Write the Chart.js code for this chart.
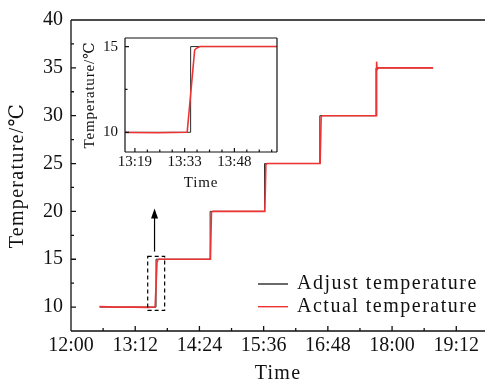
<!DOCTYPE html>
<html>
<head>
<meta charset="utf-8">
<script src="https://cdn.jsdelivr.net/npm/chart.js@4.4.1/dist/chart.umd.min.js"></script>
<style>
  html, body { margin: 0; padding: 0; background: #fff; }
  #wrap { position: relative; width: 485px; height: 385px; overflow: hidden; }
  #main { position: absolute; left: 0; top: 0; }
  #inset { position: absolute; left: 78px; top: 22px; }
</style>
</head>
<body>
<div id="wrap">
  <canvas id="main" width="485" height="385"></canvas>
  <canvas id="inset" width="207" height="173"></canvas>
</div>
<script>
/* ===== DATA ===== */
const seriesNames = ["Adjust temperature", "Actual temperature"];

// set point (step profile)
const adjustTime = ["12:32:00", "13:35:20", "13:35:20", "14:36:00", "14:36:00", "15:37:00", "15:37:00",
                    "16:39:00", "16:39:00", "17:42:00", "17:42:00", "18:46:00"];
const adjustTemp = [10, 10, 15, 15, 20, 20, 25, 25, 30, 30, 35, 35];

// measured
const actualTime = ["12:32:00", "12:50:00", "13:10:00", "13:26:00", "13:34:20", "13:36:30", "13:37:00", "13:38:00",
                    "14:00:00", "14:36:20", "14:37:30", "14:39:00", "15:37:20", "15:38:30", "15:40:00",
                    "16:39:20", "16:40:30", "16:42:00", "17:42:00", "17:42:40", "17:43:10", "17:44:30", "18:46:00"];
const actualTemp = [10.05, 10, 10, 9.97, 10, 14.8, 14.9, 15,
                    15, 15, 19.9, 20, 20, 24.9, 25,
                    25, 29.9, 30, 30, 35.65, 34.8, 35, 35];

// main axes
const xTickLabels = ["12:00", "13:12", "14:24", "15:36", "16:48", "18:00", "19:12"];
const yTicks = [10, 15, 20, 25, 30, 35, 40];
const xRange = ["12:00", "19:44:12"];
const yRange = [7.5, 40];

// inset axes
const insetXTicks = ["13:19:12", "13:33:36", "13:48:00"];
const insetYTicks = [10, 15];
const insetXRange = ["13:16:20", "14:00:20"];
const insetYRange = [8.85, 15.5];

// zoom box + arrow on the main chart
const boxTime = ["13:26:00", "13:45:00"];
const boxTemp = [9.65, 15.3];
const arrowTime = "13:33:40";
const arrowTemp = [15.8, 20.3];

/* ===== HELPERS ===== */
const FONT = "'Liberation Serif', 'DejaVu Serif', serif";
Chart.defaults.font.family = FONT;
Chart.defaults.color = "#111";

const toMin = s => { const p = s.split(":").map(Number); return p[0] * 60 + p[1] + (p[2] || 0) / 60; };
const fmt = v => {
  const h = Math.floor(v / 60 + 1e-9);
  const m = Math.floor(v - h * 60 + 1e-6);
  return h + ":" + String(m).padStart(2, "0");
};
const pts = (ts, vs) => ts.map((t, i) => ({ x: toMin(t), y: vs[i] }));

function minors(major, n, lo, hi) {
  const step = (major[1] - major[0]) / n, out = [];
  let v = major[0] - Math.floor((major[0] - lo) / step) * step;
  for (; v < hi - 1e-6; v += step) {
    if (v > lo + 1e-6 && !major.some(m => Math.abs(m - v) < 1e-6)) out.push(v);
  }
  return out;
}

function makeDatasets() {
  return [
    { label: seriesNames[0], data: pts(adjustTime, adjustTemp), borderColor: "#2a2a2a", borderWidth: 1, order: 1 },
    { label: seriesNames[1], data: pts(actualTime, actualTemp), borderColor: "#ee3333", borderWidth: 1.6, order: 0 }
  ].map(d => Object.assign(d, { pointRadius: 0, tension: 0, fill: false }));
}

// frame + inward tick marks, letter spacing for axis titles
function framePlugin(cfg) {
  return {
    id: "frame",
    beforeDraw(chart) { chart.ctx.letterSpacing = cfg.titleSpacing; },
    beforeDatasetsDraw(chart) { chart.ctx.letterSpacing = "0px"; },
    afterDraw(chart) {
      const { ctx, chartArea: a, scales: { x, y } } = chart;
      ctx.save();
      ctx.strokeStyle = "#111";
      ctx.lineWidth = cfg.lw;
      ctx.beginPath();
      ctx.moveTo(a.left, a.top); ctx.lineTo(a.left, a.bottom);
      ctx.moveTo(a.left, a.bottom); ctx.lineTo(a.right, a.bottom);
      ctx.moveTo(a.left, a.top); ctx.lineTo(a.right, a.top);
      if (cfg.right) { ctx.moveTo(a.right, a.top); ctx.lineTo(a.right, a.bottom); }
      const mark = (scale, vals, len) => vals.forEach(v => {
        const p = scale.getPixelForValue(v);
        if (scale.isHorizontal()) { ctx.moveTo(p, a.bottom); ctx.lineTo(p, a.bottom - len); }
        else { ctx.moveTo(a.left, p); ctx.lineTo(a.left + len, p); }
      });
      mark(x, cfg.xMajor, cfg.major);
      mark(x, minors(cfg.xMajor, cfg.xSub, x.min, x.max), cfg.minor);
      mark(y, cfg.yMajor, cfg.major);
      mark(y, minors(cfg.yMajor, cfg.ySub, y.min, y.max), cfg.minor);
      ctx.stroke();
      ctx.restore();
    }
  };
}

/* ===== MAIN CHART ===== */
const xMajor = xTickLabels.map(toMin);

const annotate = {
  id: "annotate",
  afterDraw(chart) {
    const { ctx, scales: { x, y } } = chart;
    ctx.save();
    // dashed zoom box
    ctx.strokeStyle = "#000";
    ctx.lineWidth = 1.2;
    ctx.setLineDash([4, 3]);
    const bx0 = x.getPixelForValue(toMin(boxTime[0])), bx1 = x.getPixelForValue(toMin(boxTime[1]));
    const by0 = y.getPixelForValue(boxTemp[1]), by1 = y.getPixelForValue(boxTemp[0]);
    ctx.strokeRect(bx0, by0, bx1 - bx0, by1 - by0);
    ctx.setLineDash([]);
    // arrow
    const ax = x.getPixelForValue(toMin(arrowTime));
    const ay0 = y.getPixelForValue(arrowTemp[0]), ay1 = y.getPixelForValue(arrowTemp[1]);
    ctx.beginPath();
    ctx.moveTo(ax, ay0); ctx.lineTo(ax, ay1 + 8);
    ctx.stroke();
    ctx.fillStyle = "#000";
    ctx.beginPath();
    ctx.moveTo(ax, ay1); ctx.lineTo(ax - 3.5, ay1 + 10); ctx.lineTo(ax + 3.5, ay1 + 10);
    ctx.closePath();
    ctx.fill();

    // legend
    ctx.font = "20px " + FONT;
    ctx.letterSpacing = "1.5px";
    ctx.textBaseline = "middle";
    ctx.fillStyle = "#111";
    seriesNames.forEach((name, i) => {
      const ds = chart.data.datasets.find(d => d.label === name);
      const ly = 284 + i * 22.7;
      ctx.strokeStyle = ds.borderColor;
      ctx.lineWidth = 1.4;
      ctx.beginPath();
      ctx.moveTo(258, ly); ctx.lineTo(288, ly);
      ctx.stroke();
      ctx.fillText(name, 297, ly);
    });
    ctx.restore();
  }
};

new Chart(document.getElementById("main"), {
  type: "line",
  data: { datasets: makeDatasets() },
  options: {
    responsive: false,
    animation: false,
    devicePixelRatio: 1,
    layout: { padding: { top: 14, right: 0, left: 0, bottom: 0 } },
    plugins: { legend: { display: false }, tooltip: { enabled: false } },
    scales: {
      x: {
        type: "linear",
        min: toMin(xRange[0]),
        max: toMin(xRange[1]),
        afterBuildTicks: s => { s.ticks = xMajor.map(v => ({ value: v })); },
        afterFit: s => { s.height = 54; },
        grid: { display: false, drawTicks: false },
        border: { display: false },
        ticks: { z: 1, padding: 3, maxRotation: 0, autoSkip: false, font: { size: 20 }, callback: v => fmt(v) },
        title: { display: true, text: "Time", font: { size: 20, lineHeight: 1.08 }, padding: { top: 0, bottom: 0 } }
      },
      y: {
        min: yRange[0],
        max: yRange[1],
        afterBuildTicks: s => { s.ticks = yTicks.map(v => ({ value: v })); },
        afterFit: s => { s.width = 71; },
        grid: { display: false, drawTicks: false },
        border: { display: false },
        ticks: { z: 1, padding: 8, font: { size: 20 } },
        title: { display: true, text: "Temperature/℃", font: { size: 20 }, padding: { top: 6, bottom: 0 } }
      }
    }
  },
  plugins: [
    framePlugin({ titleSpacing: "1.3px", lw: 1.3, major: 5, minor: 3, xMajor: xMajor, xSub: 2, yMajor: yTicks, ySub: 2, right: false }),
    annotate
  ]
});

/* ===== INSET ===== */
const insetXMajor = insetXTicks.map(toMin);

new Chart(document.getElementById("inset"), {
  type: "line",
  data: { datasets: makeDatasets() },
  options: {
    responsive: false,
    animation: false,
    devicePixelRatio: 1,
    layout: { padding: { top: 9, right: 8, left: 0, bottom: 0 } },
    plugins: { legend: { display: false }, tooltip: { enabled: false } },
    scales: {
      x: {
        type: "linear",
        min: toMin(insetXRange[0]),
        max: toMin(insetXRange[1]),
        afterBuildTicks: s => { s.ticks = insetXMajor.map(v => ({ value: v })); },
        afterFit: s => { s.height = 43; },
        grid: { display: false, drawTicks: false },
        border: { display: false },
        ticks: { z: 1, padding: 1, maxRotation: 0, autoSkip: false, font: { size: 15 }, callback: v => fmt(v) },
        title: { display: true, text: "Time", font: { size: 15 }, padding: { top: 0, bottom: 3 } }
      },
      y: {
        min: insetYRange[0],
        max: insetYRange[1],
        afterBuildTicks: s => { s.ticks = insetYTicks.map(v => ({ value: v })); },
        afterFit: s => { s.width = 47; },
        grid: { display: false, drawTicks: false },
        border: { display: false },
        ticks: { z: 1, padding: 7, font: { size: 15 } },
        title: { display: true, text: "Temperature/℃", font: { size: 15 }, padding: { top: 3, bottom: 0 } }
      }
    }
  },
  plugins: [
    framePlugin({ titleSpacing: "0.8px", lw: 1.2, major: 4, minor: 2.5, xMajor: insetXMajor, xSub: 4, yMajor: insetYTicks, ySub: 2, right: true })
  ]
});
</script>
</body>
</html>
